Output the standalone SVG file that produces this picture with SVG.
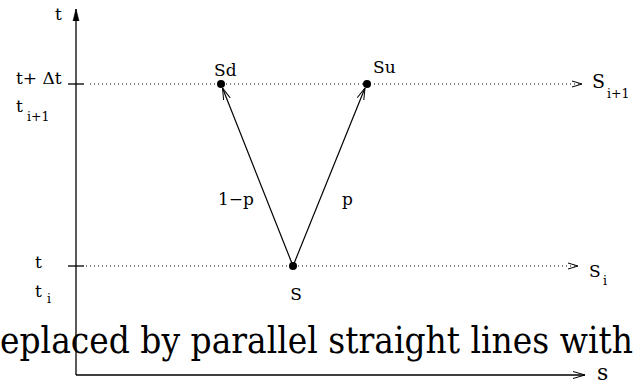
<svg xmlns="http://www.w3.org/2000/svg" width="637" height="382" viewBox="0 0 637 382" font-family="DejaVu Serif, Liberation Serif, serif">
<style>
.lbl{font-size:17px}
.sub{font-size:12.5px}
.ax{stroke:#000;stroke-width:1.3;fill:none}
.dot{stroke:#000;stroke-width:1;stroke-dasharray:1 3;fill:none}
.arr{stroke:#000;stroke-width:1.2;fill:none}
.open{stroke:#000;stroke-width:1;fill:none}
</style>
<defs>
<marker id="ah" viewBox="0 0 12 8" refX="12" refY="4" markerWidth="12" markerHeight="8" markerUnits="userSpaceOnUse" orient="auto">
<path d="M0,0.5 L12,4 L0,7.5" class="open"/>
</marker>
<marker id="ahs" viewBox="0 0 12 8" refX="12" refY="4" markerWidth="12" markerHeight="8" markerUnits="userSpaceOnUse" orient="auto">
<path d="M0,1 L12,4 L0,7 Z" fill="#000" stroke="#000" stroke-width="0.6"/>
</marker>
</defs>
<text x="0" y="353" font-size="38" textLength="633" lengthAdjust="spacingAndGlyphs">eplaced by parallel straight lines with</text>
<g id="axes">
<line x1="76" y1="375" x2="76" y2="9" class="ax" marker-end="url(#ahs)"/>
<line x1="76" y1="375" x2="585" y2="375" class="ax" marker-end="url(#ah)"/>
<line x1="68" y1="84" x2="84" y2="84" class="ax"/>
<line x1="68" y1="266" x2="84" y2="266" class="ax"/>
<text x="55" y="20" class="lbl">t</text>
<text x="597" y="380" font-size="22">s</text>
</g>
<g id="timelabels">
<text x="16" y="84" class="lbl">t+ Δt</text>
<text x="16" y="112" class="lbl">t</text>
<text x="27" y="121" class="sub">i+1</text>
<text x="35" y="268" class="lbl">t</text>
<text x="35" y="297" class="lbl">t</text>
<text x="47" y="303" class="sub">i</text>
</g>
<g id="connectors">
<line x1="90" y1="84" x2="582" y2="84" class="dot"/>
<line x1="572" y1="81" x2="582" y2="84" class="open"/>
<line x1="572" y1="87" x2="582" y2="84" class="open"/>
<line x1="86" y1="266" x2="578" y2="266" class="dot"/>
<line x1="568" y1="263" x2="578" y2="266" class="open"/>
<line x1="568" y1="269" x2="578" y2="266" class="open"/>
<line x1="293" y1="266" x2="222.5" y2="88" class="arr" marker-end="url(#ah)"/>
<line x1="293" y1="266" x2="365" y2="88" class="arr" marker-end="url(#ah)"/>
</g>
<g id="node-S">
<circle cx="293" cy="266" r="4"/>
<text x="296" y="300" class="lbl" text-anchor="middle">S</text>
</g>
<g id="node-Sd">
<circle cx="221" cy="84" r="4"/>
<text x="214" y="76" class="lbl">Sd</text>
</g>
<g id="node-Su">
<circle cx="367" cy="84" r="4"/>
<text x="373" y="73" class="lbl">Su</text>
</g>
<g id="edge-labels">
<text x="218" y="205" class="lbl">1−p</text>
<text x="342" y="205" class="lbl">p</text>
</g>
<g id="space-labels">
<text x="592" y="88" font-size="19">S</text>
<text x="607" y="98" class="sub">i+1</text>
<text x="589" y="277" font-size="17">S</text>
<text x="603" y="285" class="sub">i</text>
</g>
</svg>
